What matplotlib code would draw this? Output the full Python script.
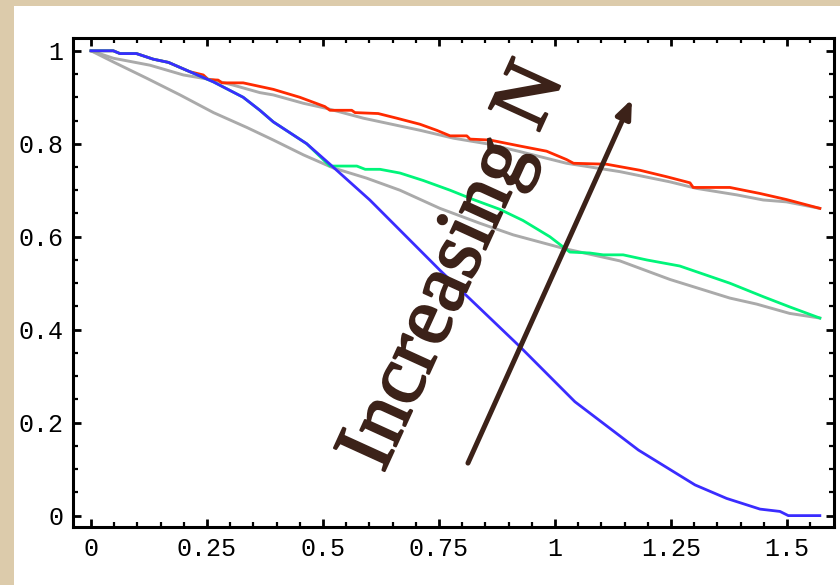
#!/usr/bin/env python3
"""
Fidelity-style curves for several N, with an 'Increasing N' arrow.
"""

import matplotlib
matplotlib.use('Agg')
import matplotlib.pyplot as plt
import matplotlib.patheffects as pe
from matplotlib.patches import Rectangle

# --- data ---
blue_x = [0, 0.048, 0.0625, 0.098, 0.134, 0.167, 0.213, 0.264, 0.328, 0.364, 0.393,
          0.465, 0.515, 0.601, 0.659, 0.752, 0.838, 0.925, 0.982, 1.043, 1.18,
          1.302, 1.37, 1.442, 1.485, 1.503, 1.571]
blue_y = [1, 1, 0.994, 0.994, 0.982, 0.975, 0.955, 0.933, 0.90, 0.872, 0.847,
          0.80, 0.756, 0.679, 0.621, 0.528, 0.446, 0.363, 0.306, 0.245, 0.141,
          0.066, 0.037, 0.014, 0.009, 0, 0]

red_x = [0, 0.048, 0.0625, 0.098, 0.134, 0.167, 0.213, 0.242, 0.253, 0.274, 0.282,
         0.328, 0.393, 0.45, 0.504, 0.515, 0.562, 0.569, 0.619, 0.659, 0.709,
         0.745, 0.774, 0.81, 0.817, 0.86, 0.925, 0.982, 1.025, 1.04, 1.111,
         1.183, 1.241, 1.291, 1.298, 1.377, 1.442, 1.499, 1.571]
red_y = [1, 1, 0.994, 0.994, 0.982, 0.975, 0.955, 0.948, 0.938, 0.937, 0.931,
         0.931, 0.917, 0.90, 0.88, 0.872, 0.872, 0.867, 0.865, 0.855, 0.842,
         0.829, 0.817, 0.817, 0.81, 0.808, 0.795, 0.784, 0.766, 0.758, 0.756,
         0.743, 0.729, 0.716, 0.706, 0.706, 0.693, 0.680, 0.661]

green_x = [0, 0.048, 0.0625, 0.098, 0.134, 0.167, 0.213, 0.264, 0.328, 0.364, 0.393,
           0.465, 0.515, 0.573, 0.591, 0.623, 0.666, 0.716, 0.774, 0.824, 0.881,
           0.931, 0.989, 1.032, 1.075, 1.104, 1.147, 1.198, 1.269, 1.377, 1.449,
           1.506, 1.571]
green_y = [1, 1, 0.994, 0.994, 0.982, 0.975, 0.955, 0.933, 0.90, 0.872, 0.847,
           0.80, 0.752, 0.752, 0.745, 0.745, 0.737, 0.721, 0.70, 0.68, 0.659,
           0.635, 0.60, 0.567, 0.565, 0.561, 0.561, 0.55, 0.537, 0.50, 0.471,
           0.449, 0.425]

gray_hi_x = [0, 0.048, 0.127, 0.199, 0.264, 0.307, 0.364, 0.393, 0.458, 0.508, 0.587,
             0.709, 0.781, 0.853, 0.925, 1.025, 1.14, 1.248, 1.305, 1.392, 1.449,
             1.499, 1.571]
gray_hi_y = [1, 0.984, 0.969, 0.948, 0.937, 0.926, 0.91, 0.905, 0.887, 0.876, 0.855,
             0.829, 0.812, 0.80, 0.783, 0.758, 0.74, 0.718, 0.704, 0.690, 0.679,
             0.675, 0.661]

gray_lo_x = [0, 0.048, 0.12, 0.192, 0.264, 0.336, 0.393, 0.458, 0.522, 0.594, 0.666,
             0.752, 0.838, 0.91, 1.018, 1.14, 1.248, 1.377, 1.435, 1.506, 1.571]
gray_lo_y = [1, 0.976, 0.941, 0.905, 0.867, 0.835, 0.808, 0.776, 0.748, 0.726, 0.70,
             0.661, 0.629, 0.604, 0.575, 0.548, 0.508, 0.468, 0.455, 0.435, 0.425]

x_ticks = [0, 0.25, 0.5, 0.75, 1, 1.25, 1.5]
x_labels = ['0', '0.25', '0.5', '0.75', '1', '1.25', '1.5']
y_ticks = [0, 0.2, 0.4, 0.6, 0.8, 1]
y_labels = ['0', '0.2', '0.4', '0.6', '0.8', '1']

arrow_tail = (0.8125, 0.113)
arrow_head = (1.166, 0.896)
label = 'Increasing N'

BROWN = '#3c2219'

fig = plt.figure(figsize=(8.4, 5.85), dpi=100)
fig.patch.set_facecolor('#dccbab')
fig.patches.append(Rectangle((14 / 840, 0), 1 - 14 / 840, 579 / 585,
                             transform=fig.transFigure, facecolor='white',
                             edgecolor='none', zorder=-5))

ax = fig.add_axes([73 / 840, 58 / 585, 761 / 840, 489 / 585])
ax.set_facecolor('white')

ax.plot(gray_hi_x, gray_hi_y, color='#aaaaaa', lw=2.1)
ax.plot(gray_lo_x, gray_lo_y, color='#aaaaaa', lw=2.1)
ax.plot(red_x, red_y, color='#ff2a00', lw=2.0)
ax.plot(green_x, green_y, color='#00f57a', lw=2.0)
ax.plot(blue_x, blue_y, color='#3a2cff', lw=2.0)

ax.set_xlim(-0.0388, 1.6015)
ax.set_ylim(-0.0245, 1.0275)

ax.set_xticks(x_ticks)
ax.set_xticklabels(x_labels)
ax.set_yticks(y_ticks)
ax.set_yticklabels(y_labels)
ax.set_xticks([i * 0.05 for i in range(32)], minor=True)
ax.set_yticks([i * 0.05 for i in range(21)], minor=True)
ax.tick_params(which='both', direction='in', top=True, right=True, color='black')
ax.tick_params(which='major', length=6, width=2)
ax.tick_params(which='minor', length=3.5, width=1.6)
ax.tick_params(axis='both', which='major', labelsize=18, pad=7)
for lab in ax.get_xticklabels() + ax.get_yticklabels():
    lab.set_family('Liberation Mono')
for sp in ax.spines.values():
    sp.set_linewidth(2.2)

ax.annotate('', xy=arrow_head, xytext=arrow_tail,
            arrowprops=dict(arrowstyle='-|>,head_length=1.1,head_width=0.45',
                            color=BROWN, lw=3.6, shrinkA=0, shrinkB=0))

ax.text(0.63, 0.09, label, family='Liberation Serif', fontsize=61,
        color=BROWN, rotation=65.5, rotation_mode='anchor',
        ha='left', va='baseline',
        path_effects=[pe.withStroke(linewidth=1.6, foreground=BROWN)])

plt.savefig('out.png', dpi=100, facecolor=fig.get_facecolor())
plt.close()
